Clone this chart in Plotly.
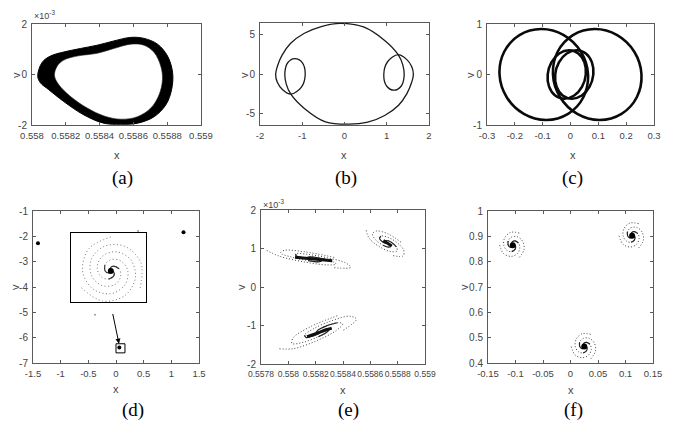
import plotly.graph_objects as go

# ---------------- data ----------------
# (a) thick band: outer and inner boundary (v in units of 1e-3)
a_outer_x = [0.558034, 0.558059, 0.558109, 0.558188, 0.558287, 0.558386, 0.558485, 0.558584,
             0.558663, 0.558743, 0.558802, 0.558832, 0.558826, 0.558792, 0.558723, 0.558624,
             0.558525, 0.558426, 0.558307, 0.558188, 0.558099, 0.558050, 0.558034]
a_outer_v = [-0.07, 0.47, 0.73, 0.89, 1.03, 1.16, 1.33, 1.47, 1.43, 1.20, 0.73, 0.07, -0.60,
             -1.20, -1.67, -1.93, -1.97, -1.93, -1.60, -1.07, -0.60, -0.33, -0.07]
a_inner_x = [0.558133, 0.558149, 0.558188, 0.558267, 0.558386, 0.558485, 0.558584, 0.558663,
             0.558723, 0.558762, 0.558772, 0.558752, 0.558703, 0.558624, 0.558525, 0.558426,
             0.558327, 0.558228, 0.558158, 0.558133]
a_inner_v = [-0.04, 0.33, 0.57, 0.73, 0.84, 1.03, 1.20, 1.16, 0.87, 0.33, -0.20, -0.80, -1.33,
             -1.67, -1.77, -1.64, -1.33, -0.87, -0.40, -0.04]

# (b) closed orbit
b_x = [-1.63, -1.59, -1.48, -1.28, -0.95, -0.55, -0.10, 0.45, 0.95, 1.27, 1.38, 1.41, 1.34, 1.18,
       1.00, 0.93, 1.02, 1.27, 1.47, 1.59, 1.63, 1.59, 1.48, 1.28, 0.95, 0.55, 0.10, -0.45, -0.95,
       -1.27, -1.38, -1.41, -1.34, -1.18, -1.00, -0.93, -1.02, -1.27, -1.47, -1.59, -1.63]
b_v = [0.0, 1.0, 2.4, 3.9, 5.2, 6.05, 6.45, 6.0, 4.3, 2.5, 1.2, -0.3, -1.5, -2.0,
       -1.5, 0.0, 1.6, 2.5, 1.9, 1.0, 0.0, -1.0, -2.4, -3.9, -5.2, -6.05, -6.3, -6.0, -4.3,
       -2.5, -1.2, 0.3, 1.5, 2.0, 1.5, 0.0, -1.6, -2.5, -1.9, -1.0, 0.0]

# (c) four closed loops
c_loops_x = [
    [-0.255, -0.2382, -0.1833, -0.105, -0.0243, 0.0372, 0.063, 0.0462, -0.0087, -0.087, -0.1677, -0.2292, -0.255],
    [0.255, 0.2382, 0.1833, 0.105, 0.0243, -0.0372, -0.063, -0.0462, 0.0087, 0.087, 0.1677, 0.2292, 0.255],
    [-0.082, -0.0686, -0.0405, -0.0051, 0.0281, 0.05, 0.055, 0.0416, 0.0135, -0.0219, -0.0551, -0.077, -0.082],
    [0.082, 0.0686, 0.0405, 0.0051, -0.0281, -0.05, -0.055, -0.0416, -0.0135, 0.0219, 0.0551, 0.077, 0.082],
]
c_loops_v = [
    [0.0, 0.45, 0.779, 0.90, 0.779, 0.45, 0.0, -0.45, -0.779, -0.90, -0.779, -0.45, 0.0],
    [0.0, -0.45, -0.779, -0.90, -0.779, -0.45, 0.0, 0.45, 0.779, 0.90, 0.779, 0.45, 0.0],
    [0.0, 0.24, 0.416, 0.48, 0.416, 0.24, 0.0, -0.24, -0.416, -0.48, -0.416, -0.24, 0.0],
    [0.0, -0.24, -0.416, -0.48, -0.416, -0.24, 0.0, 0.24, 0.416, 0.48, 0.416, 0.24, 0.0],
]

# (d) Poincare points, zoom window and inset spiral
d_points_x = [-1.41, 1.22, 0.06]
d_points_v = [-2.27, -1.84, -6.39]
d_faint_x = [0.40, -0.38]
d_faint_v = [-1.79, -5.10]
d_zoom_x = [0.0, 0.162]
d_zoom_v = [-6.60, -6.24]
d_arrow_from = [-0.096, -4.67]
d_arrow_to = [0.054, -6.24]
d_inset_center = [0.085, -6.438]
d_arm_dx = [
    [0, -0.0471, -0.0603, -0.0383, 0, 0.0298, 0.0362, 0.0213, 0, -0.0128, -0.0121, -0.0043, 0],
    [-0.0626, -0.0173, 0.0302, 0.0524, 0.0420, 0.0109, -0.0181, -0.0292, -0.0209, -0.0047, 0.0062, 0.0058, 0],
    [0.0626, 0.0641, 0.0302, -0.0141, -0.0420, -0.0407, -0.0181, 0.0079, 0.0209, 0.0175, 0.0062, -0.0015, 0],
]
d_arm_dv = [
    [0.1775, 0.1154, 0, -0.0940, -0.1185, -0.0731, 0, 0.0522, 0.0590, 0.0313, 0, -0.0104, 0],
    [-0.0887, -0.1571, -0.1279, -0.0345, 0.0595, 0.0997, 0.0767, 0.0193, -0.0298, -0.0428, -0.0256, -0.0037, 0],
    [-0.0887, 0.0423, 0.1279, 0.1284, 0.0595, -0.0266, -0.0767, -0.0715, -0.0298, 0.0115, 0.0256, 0.0141, 0],
]

# (e) three elongated spirals (v in units of 1e-3)
e_centers_x = [0.558171, 0.558720, 0.558232]
e_centers_v = [0.74, 1.15, -1.157]
e_arm_dx = [
    [[0.000165, -0.0000527, -0.000203, -0.000228, -0.000146, -0.0000264, 0.0000571, 0.0000717, 0.0000359, 0],
     [-0.000329, -0.000233, -0.0000461, 0.000114, 0.000179, 0.000143, 0.0000571, -0.0000132, -0.0000293, 0],
     [0.000165, 0.000285, 0.000250, 0.000114, -0.0000329, -0.000116, -0.000114, -0.0000586, -0.0000066, 0]],
    [[0.0001046, 0.0000067, -0.0000755, -0.0001042, -0.0000792, -0.0000275, 0.0000159, 0.0000299, 0.0000176, 0],
     [-0.0001506, -0.0001266, -0.0000482, 0.0000318, 0.000075, 0.0000706, 0.0000362, 0.0000017, -0.0000108, 0],
     [0.0000459, 0.00012, 0.0001236, 0.0000724, 0.0000042, -0.0000433, -0.0000521, -0.0000317, -0.0000069, 0]],
    [[0.000126, -0.0000709, -0.000197, -0.000205, -0.000122, -0.000012, 0.0000591, 0.0000664, 0.0000312, 0],
     [-0.000297, -0.000194, -0.0000213, 0.000118, 0.000166, 0.000125, 0.0000436, -0.0000177, -0.0000282, 0],
     [0.000171, 0.000266, 0.000218, 0.0000873, -0.0000443, -0.000113, -0.000103, -0.0000487, -0.000003, 0]],
]
e_arm_dv = [
    [[0.029, 0.175, 0.211, 0.146, 0.035, -0.054, -0.083, -0.058, -0.017, 0],
     [0.211, 0.056, -0.094, -0.166, -0.145, -0.067, 0.010, 0.044, 0.030, 0],
     [-0.240, -0.232, -0.117, 0.020, 0.109, 0.121, 0.073, 0.014, -0.014, 0]],
    [[0.013, 0.234, 0.303, 0.223, 0.068, -0.065, -0.116, -0.086, -0.027, 0],
     [0.321, 0.108, -0.114, -0.231, -0.214, -0.108, 0.004, 0.058, 0.043, 0],
     [-0.334, -0.342, -0.189, 0.009, 0.146, 0.173, 0.111, 0.027, -0.016, 0]],
    [[0.410, 0.124, -0.165, -0.310, -0.278, -0.134, 0.013, 0.080, 0.057, 0],
     [-0.447, -0.444, -0.234, 0.026, 0.200, 0.228, 0.142, 0.031, -0.024, 0],
     [0.037, 0.320, 0.399, 0.284, 0.078, -0.094, -0.155, -0.111, -0.033, 0]],
]
e_core_dx = [[-0.000122, 0.000150], [-0.0000244, 0.0000366], [-0.0000952, 0.0000854]]
e_core_dv = [[0.035, -0.06], [0.06, -0.087], [-0.13, 0.087]]

# (f) three round spirals
f_centers_x = [-0.105, 0.112, 0.025]
f_centers_v = [0.865, 0.902, 0.465]
f_arm_dx = [
    [0.0118, -0.0038, -0.0146, -0.0164, -0.0105, -0.0019, 0.0041, 0.0051, 0.0026, 0.0],
    [-0.0237, -0.0167, -0.0033, 0.0082, 0.0128, 0.0103, 0.0041, -0.0009, -0.0021, 0.0],
    [0.0118, 0.0205, 0.0180, 0.0082, -0.0024, -0.0084, -0.0082, -0.0042, -0.0005, 0.0],
]
f_arm_dv = [
    [0.0481, 0.0505, 0.0288, 0.0, -0.0206, -0.0252, -0.0167, -0.0044, 0.0022, 0.0],
    [0.0, -0.0330, -0.0442, -0.0333, -0.0110, 0.0088, 0.0167, 0.0126, 0.0041, 0.0],
    [-0.0481, -0.0175, 0.0153, 0.0333, 0.0316, 0.0165, 0.0, -0.0082, -0.0063, 0.0],
]

# ticks
a_xticks = [0.558, 0.5582, 0.5584, 0.5586, 0.5588, 0.559]
a_xtext = ["0.558", "0.5582", "0.5584", "0.5586", "0.5588", "0.559"]
a_yticks = [-2, 0, 2]
b_xticks = [-2, -1, 0, 1, 2]
b_yticks = [-5, 0, 5]
c_xticks = [-0.3, -0.2, -0.1, 0, 0.1, 0.2, 0.3]
c_xtext = ["-0.3", "-0.2", "-0.1", "0", "0.1", "0.2", "0.3"]
c_yticks = [-1, 0, 1]
d_xticks = [-1.5, -1, -0.5, 0, 0.5, 1, 1.5]
d_xtext = ["-1.5", "-1", "-0.5", "0", "0.5", "1", "1.5"]
d_yticks = [-7, -6, -5, -4, -3, -2, -1]
e_xticks = [0.5578, 0.558, 0.5582, 0.5584, 0.5586, 0.5588, 0.559]
e_xtext = ["0.5578", "0.558", "0.5582", "0.5584", "0.5586", "0.5588", "0.559"]
e_yticks = [-2, -1, 0, 1, 2]
f_xticks = [-0.15, -0.1, -0.05, 0, 0.05, 0.1, 0.15]
f_xtext = ["-0.15", "-0.1", "-0.05", "0", "0.05", "0.1", "0.15"]
f_yticks = [0.4, 0.5, 0.6, 0.7, 0.8, 0.9, 1]
f_ytext = ["0.4", "0.5", "0.6", "0.7", "0.8", "0.9", "1"]
panel_labels = ["(a)", "(b)", "(c)", "(d)", "(e)", "(f)"]
x_title, v_title = "x", "v"

# ---------------- styling ----------------
W, H = 682, 431
SANS = "Liberation Sans, Arial, sans-serif"
TICKC = "#444444"
AXC = "#5a5a5a"


def px_dom_x(a, b):
    return [a / W, b / W]


def px_dom_y(top, bottom):
    return [1 - bottom / H, 1 - top / H]


def tstr(v):
    return ["%g" % t for t in v]


def xaxis(dom, rng, vals, text, anchor, fs=9.5):
    return dict(domain=dom, range=rng, tickvals=vals, ticktext=text, anchor=anchor,
                ticks="inside", ticklen=3, tickcolor=AXC, tickwidth=1, tickangle=0,
                showline=True, linecolor=AXC, linewidth=1, mirror="ticks", automargin=False,
                showgrid=False, zeroline=False, ticklabelstandoff=2,
                tickfont=dict(family=SANS, size=fs, color=TICKC))


def yaxis(dom, rng, vals, text, anchor):
    return dict(domain=dom, range=rng, tickvals=vals, ticktext=text, anchor=anchor,
                ticks="inside", ticklen=3, tickcolor=AXC, tickwidth=1,
                showline=True, linecolor=AXC, linewidth=1, mirror="ticks", automargin=False,
                showgrid=False, zeroline=False, ticklabelstandoff=2,
                tickfont=dict(family=SANS, size=10, color=TICKC))


def spiral_arm(xs, vs, xa, ya, outer_col, inner_col, dash, n_inner):
    """Dotted outer part of an arm plus a solid dense inner part."""
    tr = [go.Scatter(x=xs, y=vs, mode="lines", xaxis=xa, yaxis=ya, hoverinfo="skip",
                     line=dict(color=outer_col, width=1, dash=dash, shape="spline", smoothing=1))]
    tr.append(go.Scatter(x=xs[-n_inner:], y=vs[-n_inner:], mode="lines", xaxis=xa, yaxis=ya, hoverinfo="skip",
                         line=dict(color=inner_col, width=1.2, shape="spline", smoothing=1)))
    return tr


fig = go.Figure()

# (a)
fig.add_trace(go.Scatter(x=a_outer_x, y=a_outer_v, mode="lines", line=dict(color="black", width=1, shape="spline", smoothing=1),
                         fill="toself", fillcolor="black", xaxis="x", yaxis="y", hoverinfo="skip"))
fig.add_trace(go.Scatter(x=a_inner_x, y=a_inner_v, mode="lines", line=dict(color="#222", width=0.6, shape="spline", smoothing=1),
                         fill="toself", fillcolor="white", xaxis="x", yaxis="y", hoverinfo="skip"))

# (b)
fig.add_trace(go.Scatter(x=b_x, y=b_v, mode="lines", line=dict(color="#1a1a1a", width=1.3, shape="spline", smoothing=1),
                         xaxis="x2", yaxis="y2", hoverinfo="skip"))

# (c)
for lx, lv in zip(c_loops_x, c_loops_v):
    fig.add_trace(go.Scatter(x=lx, y=lv, mode="lines", line=dict(color="#0a0a0a", width=2.6, shape="spline", smoothing=1),
                             xaxis="x3", yaxis="y3", hoverinfo="skip"))

# (d)
fig.add_trace(go.Scatter(x=d_points_x, y=d_points_v, mode="markers", marker=dict(color="black", size=4),
                         xaxis="x4", yaxis="y4", hoverinfo="skip"))
fig.add_trace(go.Scatter(x=d_faint_x, y=d_faint_v, mode="markers", marker=dict(color="#999", size=2),
                         xaxis="x4", yaxis="y4", hoverinfo="skip"))
for dx, dv in zip(d_arm_dx, d_arm_dv):
    xs = [d_inset_center[0] + u for u in dx]
    vs = [d_inset_center[1] + w for w in dv]
    for t in spiral_arm(xs, vs, "x7", "y7", "#777", "#333", "1px,2.5px", 4):
        fig.add_trace(t)
fig.add_trace(go.Scatter(x=[d_inset_center[0]], y=[d_inset_center[1]], mode="markers", marker=dict(color="black", size=6),
                         xaxis="x7", yaxis="y7", hoverinfo="skip"))

# (e)
for k in range(3):
    cx, cv = e_centers_x[k], e_centers_v[k]
    for dx, dv in zip(e_arm_dx[k], e_arm_dv[k]):
        xs = [cx + u for u in dx]
        vs = [cv + w for w in dv]
        for t in spiral_arm(xs, vs, "x5", "y5", "#444", "#222", "1px,2px", 5):
            fig.add_trace(t)
    fig.add_trace(go.Scatter(x=[cx + u for u in e_core_dx[k]], y=[cv + w for w in e_core_dv[k]], mode="lines",
                             line=dict(color="#111", width=3), xaxis="x5", yaxis="y5", hoverinfo="skip"))

# (f)
for k in range(3):
    cx, cv = f_centers_x[k], f_centers_v[k]
    for dx, dv in zip(f_arm_dx, f_arm_dv):
        xs = [cx + u for u in dx]
        vs = [cv + w for w in dv]
        for t in spiral_arm(xs, vs, "x6", "y6", "#444", "#222", "1px,2px", 5):
            fig.add_trace(t)
fig.add_trace(go.Scatter(x=f_centers_x, y=f_centers_v, mode="markers", marker=dict(color="black", size=6),
                         xaxis="x6", yaxis="y6", hoverinfo="skip"))

layout = dict(
    width=W, height=H, margin=dict(l=0, r=0, t=0, b=0, pad=0, autoexpand=False), showlegend=False,
    paper_bgcolor="white", plot_bgcolor="white",
    xaxis=xaxis(px_dom_x(32, 201), [0.558, 0.559], a_xticks, a_xtext, "y"),
    yaxis=yaxis(px_dom_y(24, 125), [-2, 2], a_yticks, tstr(a_yticks), "x"),
    xaxis2=xaxis(px_dom_x(260, 429), [-2, 2], b_xticks, tstr(b_xticks), "y2"),
    yaxis2=yaxis(px_dom_y(23, 125), [-6.4, 6.5], b_yticks, tstr(b_yticks), "x2"),
    xaxis3=xaxis(px_dom_x(487, 654), [-0.3, 0.3], c_xticks, c_xtext, "y3"),
    yaxis3=yaxis(px_dom_y(24, 125), [-1, 1], c_yticks, tstr(c_yticks), "x3"),
    xaxis4=xaxis(px_dom_x(33, 199), [-1.5, 1.5], d_xticks, d_xtext, "y4"),
    yaxis4=yaxis(px_dom_y(211, 363), [-7, -1], d_yticks, tstr(d_yticks), "x4"),
    xaxis5=xaxis(px_dom_x(261, 425), [0.5578, 0.559], e_xticks, e_xtext, "y5", fs=8.5),
    yaxis5=yaxis(px_dom_y(210, 364), [-2, 2], e_yticks, tstr(e_yticks), "x5"),
    xaxis6=xaxis(px_dom_x(488, 653), [-0.15, 0.15], f_xticks, f_xtext, "y6"),
    yaxis6=yaxis(px_dom_y(211, 363), [0.4, 1], f_yticks, f_ytext, "x6"),
    xaxis7=dict(domain=px_dom_x(71, 146), range=[d_zoom_x[0], 0.16], anchor="y7", showline=True, mirror=True,
                linecolor="black", linewidth=1, showticklabels=False, ticks="", showgrid=False, zeroline=False,
                automargin=False),
    yaxis7=dict(domain=px_dom_y(233, 302), range=d_zoom_v, anchor="x7", showline=True, mirror=True,
                linecolor="black", linewidth=1, showticklabels=False, ticks="", showgrid=False, zeroline=False,
                automargin=False),
)
fig.update_layout(**layout)

fig.add_shape(type="rect", xref="x4", yref="y4", x0=d_zoom_x[0], x1=d_zoom_x[1], y0=d_zoom_v[0], y1=d_zoom_v[1],
              line=dict(color="black", width=1))

ann = []
ann.append(dict(xref="x4", yref="y4", axref="x4", ayref="y4", x=d_arrow_to[0], y=d_arrow_to[1],
                ax=d_arrow_from[0], ay=d_arrow_from[1], showarrow=True, arrowhead=2, arrowsize=1,
                arrowwidth=1, arrowcolor="black", text=" "))
# exponent labels
for xp, yp in [(32, 15), (261, 204)]:
    ann.append(dict(xref="paper", yref="paper", x=xp / W, y=1 - yp / H, xanchor="left", yanchor="middle",
                    text="\u00d710<sup>-3</sup>", showarrow=False, font=dict(family=SANS, size=9, color=TICKC)))
# axis titles
for xp, yp in [(117, 155), (344, 155), (573, 155), (116, 389), (343, 390), (571, 390)]:
    ann.append(dict(xref="paper", yref="paper", x=xp / W, y=1 - yp / H, xanchor="center", yanchor="middle",
                    text=x_title, showarrow=False, font=dict(family=SANS, size=11, color=TICKC)))
for xp, yp in [(16, 75), (244, 75), (470, 75), (15, 287), (241, 287), (464, 287)]:
    ann.append(dict(xref="paper", yref="paper", x=xp / W, y=1 - yp / H, xanchor="center", yanchor="middle",
                    text=v_title, textangle=-90, showarrow=False, font=dict(family=SANS, size=11, color=TICKC)))
# panel labels
label_pos = [(122, 178), (346, 178), (572, 178), (133, 410), (348, 410), (573, 410)]
for t, (xp, yp) in zip(panel_labels, label_pos):
    ann.append(dict(xref="paper", yref="paper", x=xp / W, y=1 - yp / H, xanchor="center", yanchor="middle",
                    text=t, showarrow=False, font=dict(family="Liberation Serif, Times New Roman, serif", size=19, color="black")))
fig.update_layout(annotations=ann)

fig.write_html("out.html", config={"displayModeBar": False, "staticPlot": True},
               post_script="document.body.style.margin='0px';")
